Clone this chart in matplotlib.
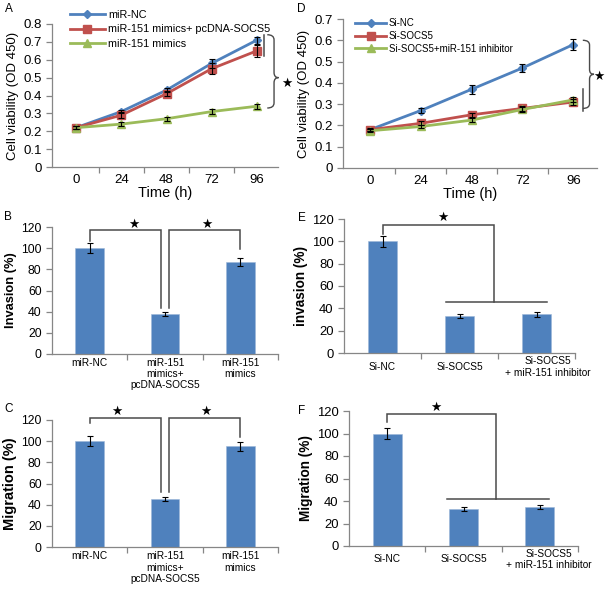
import numpy as np
import matplotlib
matplotlib.use("Agg")
import matplotlib.pyplot as plt
from matplotlib.path import Path
from matplotlib.patches import PathPatch

plt.rcParams['font.family'] = ['Liberation Sans', 'DejaVu Sans']

# ---------------- data ----------------
hours = [0, 24, 48, 72, 96]

a_labels = ['miR-NC', 'miR-151 mimics+ pcDNA-SOCS5', 'miR-151 mimics']
a_nc = [0.22, 0.31, 0.43, 0.58, 0.71]
a_nc_err = [0.01, 0.01, 0.012, 0.025, 0.02]
a_mix = [0.22, 0.29, 0.41, 0.55, 0.65]
a_mix_err = [0.01, 0.015, 0.015, 0.03, 0.035]
a_mim = [0.22, 0.24, 0.27, 0.31, 0.34]
a_mim_err = [0.01, 0.01, 0.01, 0.015, 0.015]

d_labels = ['Si-NC', 'Si-SOCS5', 'Si-SOCS5+miR-151 inhibitor']
d_nc = [0.18, 0.27, 0.37, 0.47, 0.58]
d_nc_err = [0.005, 0.01, 0.02, 0.02, 0.025]
d_si = [0.18, 0.21, 0.25, 0.28, 0.31]
d_si_err = [0.008, 0.01, 0.01, 0.01, 0.012]
d_inh = [0.175, 0.195, 0.225, 0.275, 0.32]
d_inh_err = [0.008, 0.008, 0.01, 0.01, 0.012]

bc_cats = ['miR-NC', 'miR-151\nmimics+\npcDNA-SOCS5', 'miR-151\nmimics']
b_vals = [100, 38, 87]
b_err = [5, 2, 4]
c_vals = [100, 45, 95]
c_err = [5, 2, 4.5]

ef_cats = ['Si-NC', 'Si-SOCS5', 'Si-SOCS5\n+ miR-151 inhibitor']
e_vals = [100, 33, 34.5]
e_err = [5, 1.5, 2]
f_vals = [100, 33, 34.5]
f_err = [5, 1.5, 2]

# ---------------- style ----------------
BLUE = '#4F81BD'
RED = '#C0504D'
GREEN = '#9BBB59'
GRAY = '#868686'
BRK = '#4a4a4a'

W, H = 605, 589
fig = plt.figure(figsize=(W / 100, H / 100), dpi=100)


def px_axes(l, r, t, b):
    return fig.add_axes([l / W, 1 - b / H, (r - l) / W, (b - t) / H])


def style(ax):
    for s in ['top', 'right']:
        ax.spines[s].set_visible(False)
    for s in ['left', 'bottom']:
        ax.spines[s].set_color(GRAY)
        ax.spines[s].set_linewidth(0.9)
    ax.tick_params(axis='y', colors=GRAY, labelcolor='black', length=4, width=0.9)
    ax.tick_params(axis='x', which='major', length=0, labelcolor='black')
    ax.tick_params(axis='x', which='minor', colors=GRAY, length=4, width=0.9)


def brace(ax, x0, x1, top, bot, mid):
    xm = x0 + 0.6 * (x1 - x0)
    r = (top - bot) * 0.07
    verts = [(x0, top), (xm, top), (xm, top - r),
             (xm, mid + r),
             (xm, mid), (x1, mid),
             (xm, mid), (xm, mid - r),
             (xm, bot + r),
             (xm, bot), (x0, bot)]
    codes = [Path.MOVETO, Path.CURVE3, Path.CURVE3,
             Path.LINETO,
             Path.CURVE3, Path.CURVE3,
             Path.CURVE3, Path.CURVE3,
             Path.LINETO,
             Path.CURVE3, Path.CURVE3]
    ax.add_patch(PathPatch(Path(verts, codes), fill=False, edgecolor=BRK,
                           lw=1.0, clip_on=False))


def star(ax, x, y, size=9):
    ax.text(x, y, '★', family='DejaVu Sans', fontsize=size, ha='center',
            va='center', color='black', clip_on=False)


def line_panel(ax, series, ylim, yticks, legend_anchor, legend_fs, lsp):
    style(ax)
    x = np.array(hours)
    handles = []
    for vals, err, col, mk, ms, lab in series:
        h, = ax.plot(x, vals, color=col, lw=2.0, marker=mk, ms=ms,
                     mfc=col, mec=col, label=lab, zorder=3)
        ax.errorbar(x, vals, yerr=err, fmt='none', ecolor='black',
                    elinewidth=0.8, capsize=2, capthick=0.8, zorder=4)
        handles.append(h)
    ax.set_xlim(-12.8, 107.2)
    ax.set_ylim(*ylim)
    ax.set_yticks(yticks)
    ax.set_yticklabels([('%g' % v) for v in yticks], fontsize=9.5)
    ax.set_xticks(x)
    ax.set_xticklabels([str(v) for v in hours], fontsize=9.5)
    ax.set_xticks([12, 36, 60, 84], minor=True)
    ax.tick_params(axis='x', which='major', pad=5)
    ax.set_xlabel('Time (h)', fontsize=10.5, labelpad=0)
    ax.set_ylabel('Cell viability (OD 450)', fontsize=9.5, labelpad=3)
    ax.legend(handles=handles, loc='upper left', bbox_to_anchor=legend_anchor,
              bbox_transform=fig.transFigure, frameon=False,
              fontsize=legend_fs, handlelength=3.2, handletextpad=0.3,
              labelspacing=lsp, borderpad=0, borderaxespad=0)


def bar_panel(ax, vals, err, cats, ylabel, ylab_fs, tick_fs, centered, lab_y, shift3=0.0):
    style(ax)
    x = np.arange(len(vals))
    ax.bar(x, vals, width=0.38, color=BLUE, edgecolor='#9db7d8', lw=0.4, zorder=2)
    ax.errorbar(x, vals, yerr=err, fmt='none', ecolor='black',
                elinewidth=0.8, capsize=2.2, capthick=0.8, zorder=3)
    ax.set_xlim(-0.5, 2.5)
    ax.set_ylim(0, 120)
    ax.set_yticks(range(0, 121, 20))
    ax.set_yticklabels([str(v) for v in range(0, 121, 20)], fontsize=tick_fs)
    ax.set_xticks(x)
    ax.set_xticklabels([])
    ax.set_xticks([0.5, 1.5, 2.5], minor=True)
    tr = ax.get_xaxis_transform()
    for i, c in enumerate(cats):
        xx = i + (shift3 if i == 2 else 0.0)
        ax.text(xx, lab_y, c, transform=tr, ha='center',
                va='center' if centered else 'top', fontsize=7.3,
                linespacing=1.15, color='black')
    ax.set_ylabel(ylabel, fontsize=ylab_fs, fontweight='bold', labelpad=3)


def bracket_line(ax, xs, ys):
    ax.plot(xs, ys, color=BRK, lw=1.1, clip_on=False, zorder=5,
            solid_joinstyle='miter')


# ---------------- Panel A ----------------
axA = px_axes(52, 278, 24, 167)
line_panel(axA, [
    (a_nc, a_nc_err, BLUE, 'D', 4.5, a_labels[0]),
    (a_mix, a_mix_err, RED, 's', 6, a_labels[1]),
    (a_mim, a_mim_err, GREEN, '^', 6, a_labels[2]),
], (0, 0.8), [0, 0.1, 0.2, 0.3, 0.4, 0.5, 0.6, 0.7, 0.8],
    (70 / W, 1 - 10 / H), 7.8, 0.4)
bracket_line(axA, [99.7, 99.7], [0.74, 0.62])
brace(axA, 101.5, 107.5, 0.74, 0.33, 0.50)
star(axA, 111.8, 0.47)

# ---------------- Panel D ----------------
axD = px_axes(343, 597, 19, 168)
line_panel(axD, [
    (d_nc, d_nc_err, BLUE, 'D', 4.5, d_labels[0]),
    (d_si, d_si_err, RED, 's', 6, d_labels[1]),
    (d_inh, d_inh_err, GREEN, '^', 6, d_labels[2]),
], (0, 0.7), [0, 0.1, 0.2, 0.3, 0.4, 0.5, 0.6, 0.7],
    (355 / W, 1 - 18 / H), 7.0, 0.3)
bracket_line(axD, [100.5, 100.5], [0.37, 0.27])
brace(axD, 100.5, 105.8, 0.60, 0.28, 0.44)
star(axD, 108.2, 0.43)

# ---------------- Panel B ----------------
axB = px_axes(52, 278, 227, 354)
bar_panel(axB, b_vals, b_err, bc_cats, 'Invasion (%)', 9.3, 8.8, False, -0.03)
bracket_line(axB, [0, 0, 0.95, 0.95], [107, 117, 117, 43])
bracket_line(axB, [1.05, 1.05, 2, 2], [43, 117, 117, 99])
star(axB, 0.59, 122)
star(axB, 1.55, 122)

# ---------------- Panel C ----------------
axC = px_axes(52, 278, 420, 547)
bar_panel(axC, c_vals, c_err, bc_cats, 'Migration (%)', 10.5, 8.8, False, -0.035)
bracket_line(axC, [0, 0, 0.95, 0.95], [117, 121.5, 121.5, 52])
bracket_line(axC, [1.05, 1.05, 2, 2], [52, 121.5, 121.5, 104])
star(axC, 0.36, 128)
star(axC, 1.54, 128)

# ---------------- Panel E ----------------
axE = px_axes(344, 575, 219, 353)
bar_panel(axE, e_vals, e_err, ef_cats, 'invasion (%)', 9.8, 9.4, True, -0.105, 0.15)
bracket_line(axE, [0, 0, 1.45, 1.45], [107, 114.5, 114.5, 46])
bracket_line(axE, [0.83, 2.14], [46, 46])
star(axE, 0.78, 121)

# ---------------- Panel F ----------------
axF = px_axes(349, 578, 411, 546)
bar_panel(axF, f_vals, f_err, ef_cats, 'Migration (%)', 9.8, 9.4, True, -0.1, 0.12)
bracket_line(axF, [0, 0, 1.42, 1.42], [110, 117, 117, 42])
bracket_line(axF, [0.78, 2.12], [42, 42])
star(axF, 0.64, 123)

# ---------------- panel letters ----------------
for lab, x, y in [('A', 5, 9), ('B', 4, 217), ('C', 4, 409),
                  ('D', 297, 9), ('E', 298, 218), ('F', 298, 411)]:
    fig.text(x / W, 1 - y / H, lab, fontsize=8.5, ha='left', va='center')

fig.savefig('out.png', dpi=100)
